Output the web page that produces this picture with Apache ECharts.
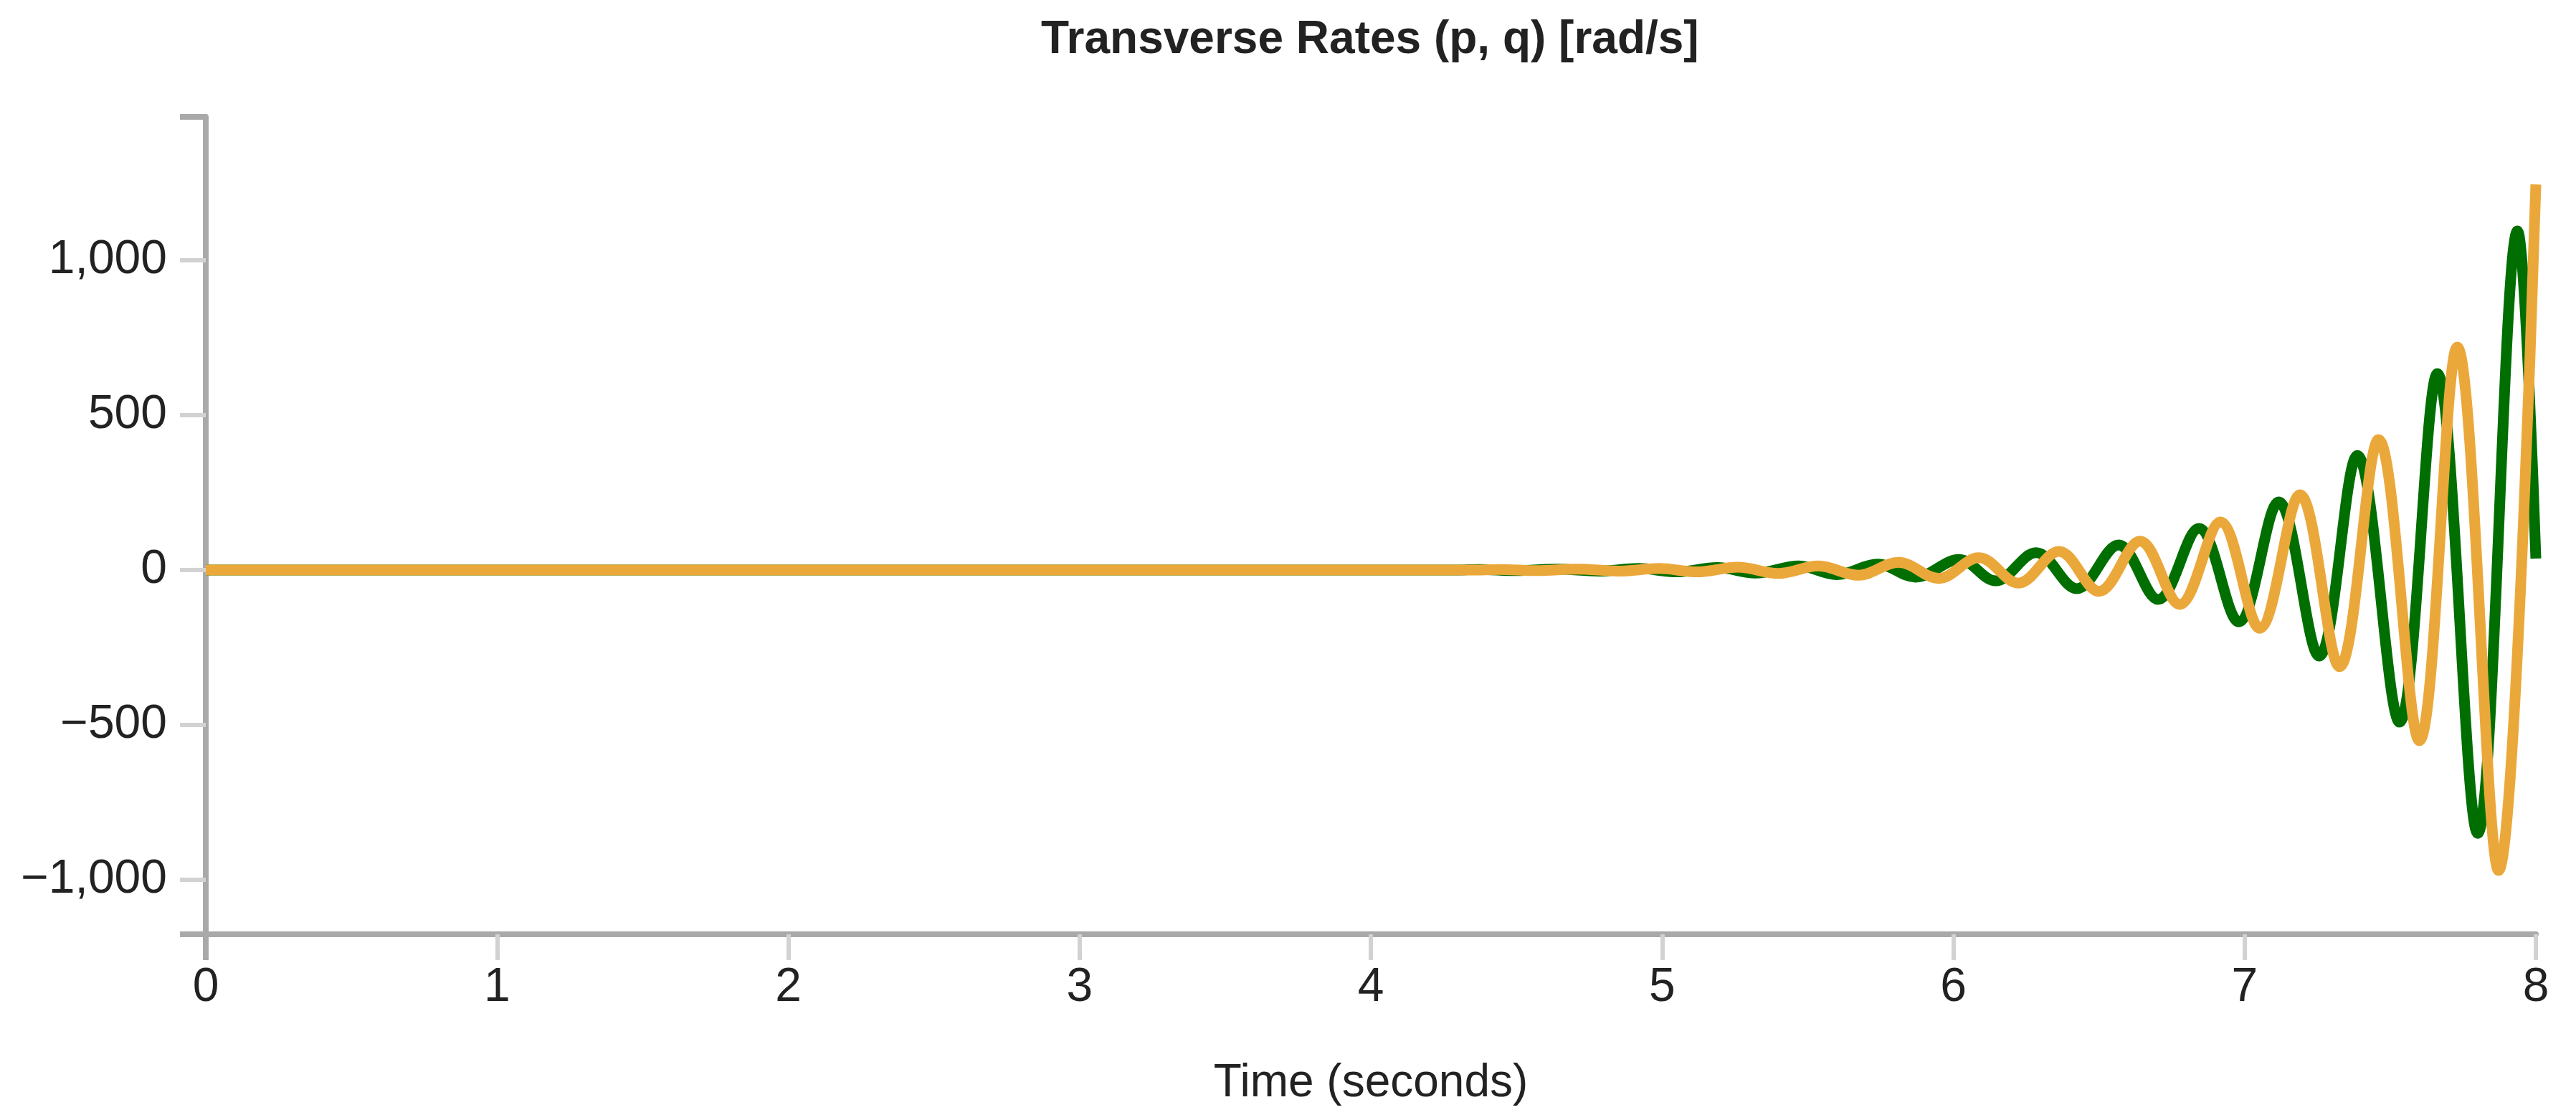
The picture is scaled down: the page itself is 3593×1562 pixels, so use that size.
<!DOCTYPE html>
<html>
<head>
<meta charset="utf-8">
<title>Transverse Rates</title>
<script src="https://cdn.jsdelivr.net/npm/echarts@6.0.0/dist/echarts.min.js"></script>
<style>
  html, body { margin: 0; padding: 0; background: #fff; }
  #chart { width: 3593px; height: 1562px; }
</style>
</head>
<body>
<div id="chart"></div>
<script>
// p (green) : peaks and troughs
var pTime = [0, 4.30, 4.37, 4.50, 4.64, 4.78, 4.92, 5.05, 5.19, 5.32,
  5.47, 5.60, 5.74, 5.87, 6.02, 6.145, 6.284, 6.424, 6.567, 6.703,
  6.843, 6.98, 7.117, 7.256, 7.387, 7.532, 7.662, 7.80, 7.937, 8.0];
var pRate = [0, 0, 2, -2, 3, -3.5, 5, -6, 8, -10,
  13, -15, 19, -23, 34, -35, 56, -60, 81, -95,
  134, -167, 220, -278, 370, -491, 634, -850, 1095, 37];

// q (orange)
var qTime = [0, 4.37, 4.44, 4.57, 4.71, 4.85, 4.99, 5.12, 5.26, 5.40,
  5.537, 5.674, 5.812, 5.95, 6.088, 6.223, 6.363, 6.50, 6.641, 6.777,
  6.917, 7.052, 7.19, 7.326, 7.46, 7.60, 7.73, 7.872, 8.0];
var qRate = [0, 0, 2, -2, 3, -3.5, 5, -6, 9, -11,
  13, -17, 25, -27, 40, -42, 60, -69, 93, -111,
  155, -188, 243, -312, 421, -551, 720, -970, 1245];

var xTicks = [0, 1, 2, 3, 4, 5, 6, 7, 8];
var yTicks = [-1000, -500, 0, 500, 1000];
var yMin = -1176;
var yMax = 1463;

var FONT = '"Liberation Sans", Arial, sans-serif';
var AXIS_GREY = '#a9a9a9';
var TICK_GREY = '#d2d2d2';

function toPairs(xs, ys) {
  var out = [];
  for (var i = 0; i < xs.length; i++) {
    out.push([xs[i], ys[i]]);
  }
  return out;
}

function fmtY(v) {
  var s = Math.abs(v).toLocaleString('en-US');
  return v < 0 ? '\u2212' + s : s;
}

var chart = echarts.init(document.getElementById('chart'), null, { renderer: 'canvas' });

var option = {
  animation: false,
  backgroundColor: '#fff',
  title: {
    text: 'Transverse Rates (p, q) [rad/s]',
    left: 1447,
    top: 19,
    textStyle: { fontFamily: FONT, fontSize: 64, fontWeight: 'bold', color: '#222' }
  },
  grid: { left: 287, right: 56, top: 163, bottom: 259, containLabel: false },
  xAxis: [{
    type: 'value',
    min: 0,
    max: 8,
    interval: 1,
    name: 'Time (seconds)',
    nameLocation: 'middle',
    nameGap: 176,
    nameTextStyle: { fontFamily: FONT, fontSize: 64, color: '#222' },
    axisLine: { show: true, onZero: false, lineStyle: { color: AXIS_GREY, width: 8 } },
    axisTick: { show: true, length: 36, customValues: xTicks, lineStyle: { color: TICK_GREY, width: 6 } },
    axisLabel: { margin: 42, customValues: xTicks, fontFamily: FONT, fontSize: 66, color: '#222' },
    splitLine: { show: false }
  }, {
    // outer tick at the origin, same grey as the axis line
    type: 'value',
    position: 'bottom',
    offset: 0,
    min: 0,
    max: 8,
    axisLine: { show: false, onZero: false },
    axisTick: { show: true, length: 36, customValues: [0], lineStyle: { color: AXIS_GREY, width: 8 } },
    axisLabel: { show: false },
    splitLine: { show: false }
  }],
  yAxis: [{
    type: 'value',
    min: yMin,
    max: yMax,
    axisLine: { show: true, onZero: false, lineStyle: { color: AXIS_GREY, width: 8 } },
    axisTick: { show: true, length: 36, customValues: yTicks, lineStyle: { color: TICK_GREY, width: 6 } },
    axisLabel: { margin: 54, customValues: yTicks, formatter: fmtY, fontFamily: FONT, fontSize: 66, color: '#222' },
    splitLine: { show: false }
  }, {
    // outer ticks at both ends of the y domain
    type: 'value',
    position: 'left',
    offset: 0,
    min: yMin,
    max: yMax,
    axisLine: { show: false, onZero: false },
    axisTick: { show: true, length: 36, customValues: [yMin, yMax], lineStyle: { color: AXIS_GREY, width: 8 } },
    axisLabel: { show: false },
    splitLine: { show: false }
  }],
  series: [{
    name: 'p',
    type: 'line',
    xAxisIndex: 0,
    yAxisIndex: 0,
    data: toPairs(pTime, pRate),
    smooth: 0.36,
    showSymbol: false,
    clip: false,
    lineStyle: { color: '#006e00', width: 15 }
  }, {
    name: 'q',
    type: 'line',
    xAxisIndex: 0,
    yAxisIndex: 0,
    data: toPairs(qTime, qRate),
    smooth: 0.36,
    showSymbol: false,
    clip: false,
    lineStyle: { color: '#eba83a', width: 15 }
  }]
};

chart.setOption(option);
</script>
</body>
</html>
